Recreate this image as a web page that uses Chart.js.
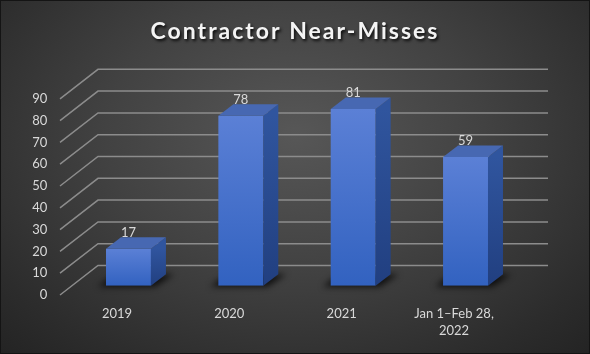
<!DOCTYPE html>
<html><head><meta charset="utf-8">
<script src="https://cdn.jsdelivr.net/npm/chart.js@4/dist/chart.umd.min.js"></script>
<style>
html,body{margin:0;padding:0;}
body{width:590px;height:354px;overflow:hidden;
 background:radial-gradient(ellipse 80% 95% at 50% 38%, #575757 0%, #424242 40%, #2c2c2c 75%, #1e1e1e 100%);}
canvas{display:block}
</style></head><body>
<canvas id="c" width="590" height="354"></canvas>
<script>
const chartTitle = 'Contractor Near-Misses';
const categories = ['2019', '2020', '2021', ['Jan 1–Feb 28,', '2022']];
const nearMisses = [17, 78, 81, 59];
const yMin = 0, yMax = 90, yStep = 10;

const FONT = 'Lato, "Open Sans", sans-serif';
const DEPTH_X = 15, DEPTH_Y = 11.5;

const threeD = {
  id: 'threeD',
  afterLayout(chart) {
    const t = chart.titleBlock;
    if (t && !t._shadowPatched) {
      const orig = t.draw;
      t.draw = function (a) {
        const c = chart.ctx;
        c.save();
        c.translate(chart.width / 2 - (this.left + this.right) / 2, 0);
        c.letterSpacing = '2px';
        c.shadowColor = 'rgba(0,0,0,0.85)';
        c.shadowBlur = 3; c.shadowOffsetX = 1.5; c.shadowOffsetY = 1.5;
        orig.call(this, a);
        c.restore();
      };
      t._shadowPatched = true;
    }
  },
  beforeDatasetsDraw(chart) {
    const c = chart.ctx, ys = chart.scales.y, area = chart.chartArea;
    c.save();
    c.strokeStyle = '#8c8c8c';
    c.lineWidth = 1.5;
    ys.ticks.forEach(t => {
      const p = ys.getPixelForValue(t.value);
      const fy = p + 9.3, by = p - 20.2;
      c.beginPath();
      c.moveTo(area.left - 12.3, fy);
      c.lineTo(area.left + 25.7, by);
      c.lineTo(area.right + 26.3, by);
      c.stroke();
    });
    const meta = chart.getDatasetMeta(0);
    meta.data.forEach(bar => {
      const x1 = bar.x - bar.width / 2, x2 = bar.x + bar.width / 2, yb = bar.base;
      c.save();
      c.filter = 'blur(3px)';
      c.fillStyle = 'rgba(0,0,0,0.75)';
      c.beginPath();
      c.moveTo(x1 - 8, yb + 1);
      c.lineTo(x2 + 4, yb + 1);
      c.lineTo(x2 + DEPTH_X + 8, yb - DEPTH_Y);
      c.lineTo(x1 + 8, yb - DEPTH_Y);
      c.closePath();
      c.fill();
      c.restore();
    });
    c.restore();
  },
  afterDatasetsDraw(chart) {
    const c = chart.ctx;
    const meta = chart.getDatasetMeta(0);
    c.save();
    meta.data.forEach((bar, i) => {
      const x1 = bar.x - bar.width / 2, x2 = bar.x + bar.width / 2;
      const yt = bar.y, yb = bar.base;
      const gs = c.createLinearGradient(0, yt, 0, yb);
      gs.addColorStop(0, '#30559e');
      gs.addColorStop(1, '#213f80');
      c.fillStyle = gs;
      c.beginPath();
      c.moveTo(x2, yt);
      c.lineTo(x2 + DEPTH_X, yt - DEPTH_Y);
      c.lineTo(x2 + DEPTH_X, yb - DEPTH_Y);
      c.lineTo(x2, yb);
      c.closePath();
      c.fill();
      c.fillStyle = '#4768b2';
      c.beginPath();
      c.moveTo(x1, yt);
      c.lineTo(x2, yt);
      c.lineTo(x2 + DEPTH_X, yt - DEPTH_Y);
      c.lineTo(x1 + DEPTH_X, yt - DEPTH_Y);
      c.closePath();
      c.fill();
      c.fillStyle = '#d9d9d9';
      c.font = '13px ' + FONT;
      c.textAlign = 'center';
      c.textBaseline = 'middle';
      c.fillText(String(nearMisses[i]), bar.x, yt - 16);
    });
    c.restore();
  },
  afterDraw(chart) {
    const c = chart.ctx;
    c.save();
    c.strokeStyle = '#141414';
    c.lineWidth = 1;
    c.strokeRect(0.5, 0.5, chart.width - 1, chart.height - 1);
    c.restore();
  }
};

new Chart(document.getElementById('c'), {
  type: 'bar',
  data: {
    labels: categories,
    datasets: [{
      data: nearMisses,
      backgroundColor: (ctx) => {
        const chart = ctx.chart;
        if (!chart.chartArea || !ctx.parsed) return '#4472c4';
        const ys = chart.scales.y;
        const top = ys.getPixelForValue(ctx.parsed.y), bot = ys.getPixelForValue(0);
        const g = chart.ctx.createLinearGradient(0, top, 0, bot);
        g.addColorStop(0, '#5b80d6');
        g.addColorStop(1, '#3262c0');
        return g;
      },
      borderWidth: 0,
      categoryPercentage: 1,
      barPercentage: 0.4
    }]
  },
  options: {
    responsive: false,
    animation: false,
    events: [],
    layout: { padding: { left: 0, right: 68.3, top: 0, bottom: 0 } },
    plugins: {
      legend: { display: false },
      tooltip: { enabled: false },
      title: {
        display: true,
        text: chartTitle,
        color: '#f4f4f4',
        font: { family: FONT, size: 23, weight: 'bold', lineHeight: 1.2 },
        padding: { top: 18.2, bottom: 43.7 }
      }
    },
    scales: {
      x: {
        grid: { display: false, drawTicks: false },
        border: { display: false },
        ticks: {
          color: '#d9d9d9',
          font: { family: FONT, size: 13, lineHeight: 1.33 },
          padding: 19,
          labelOffset: -11.5,
          maxRotation: 0,
          autoSkip: false
        },
        afterFit(s) { s.height = 68.3; }
      },
      y: {
        min: yMin, max: yMax,
        grid: { display: false, drawTicks: false },
        border: { display: false },
        ticks: {
          stepSize: yStep,
          color: '#d9d9d9',
          font: { family: FONT, size: 13 },
          padding: 25,
          labelOffset: 9.3
        },
        afterFit(s) { s.width = 72.3; }
      }
    }
  },
  plugins: [threeD]
});
</script>
</body></html>
